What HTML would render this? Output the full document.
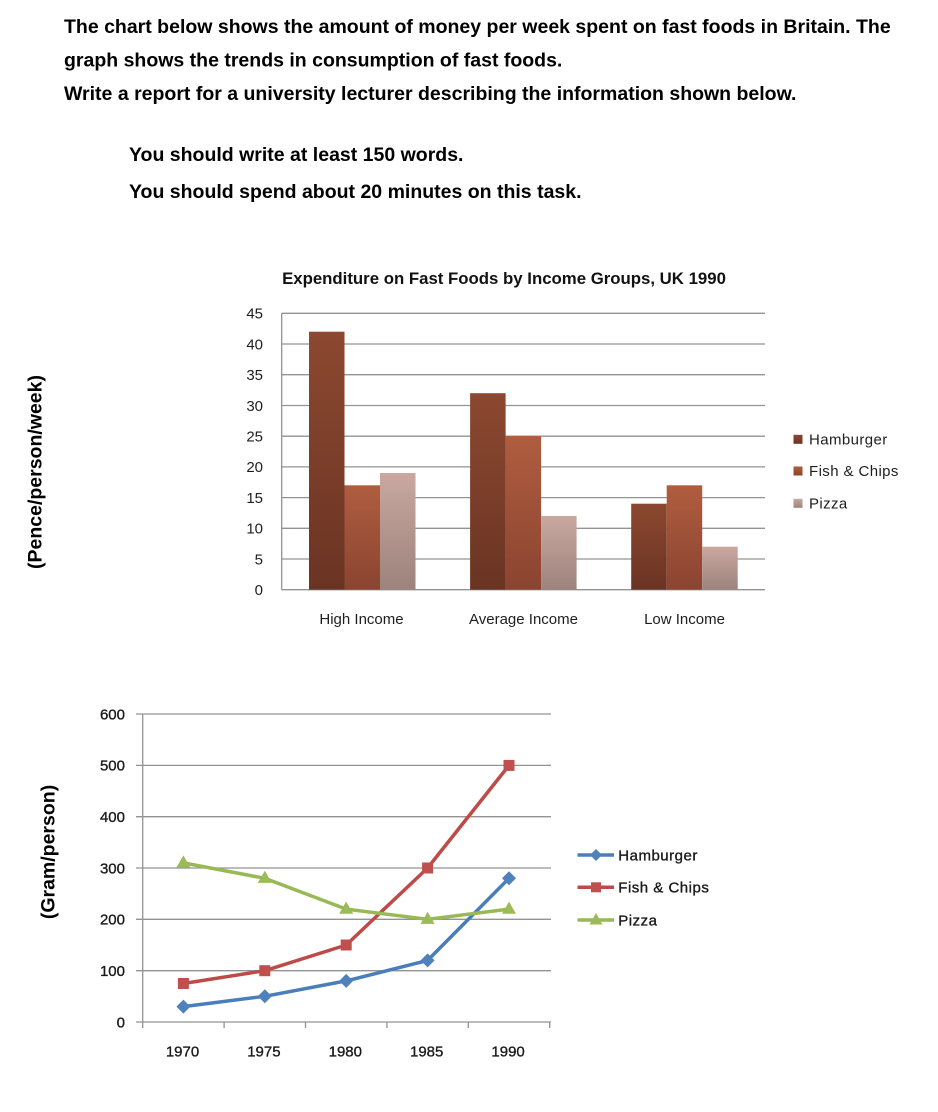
<!DOCTYPE html>
<html>
<head>
<meta charset="utf-8">
<style>
  html,body{margin:0;padding:0;background:#fff;}
  body{width:938px;height:1112px;overflow:hidden;}
  svg{display:block;}
  .hd{font-family:"Liberation Sans",Arial,sans-serif;font-weight:bold;font-size:19.5px;fill:#000;}
  .tk{font-family:"Liberation Sans",Arial,sans-serif;font-size:15px;fill:#1e1e1e;}
  .tk2{font-family:"Liberation Sans",Arial,sans-serif;font-size:15px;fill:#1a1a1a;stroke:#1a1a1a;stroke-width:0.35px;}
  .ttl{font-family:"Liberation Sans",Arial,sans-serif;font-weight:bold;font-size:16.8px;fill:#111;}
</style>
</head>
<body>
<svg width="938" height="1112" viewBox="0 0 938 1112" xmlns="http://www.w3.org/2000/svg">
  <defs>
    <linearGradient id="gH" x1="0" y1="0" x2="0" y2="1">
      <stop offset="0" stop-color="#8c4830"/>
      <stop offset="1" stop-color="#6a3423"/>
    </linearGradient>
    <linearGradient id="gF" x1="0" y1="0" x2="0" y2="1">
      <stop offset="0" stop-color="#b05d3f"/>
      <stop offset="1" stop-color="#8a4430"/>
    </linearGradient>
    <linearGradient id="gP" x1="0" y1="0" x2="0" y2="1">
      <stop offset="0" stop-color="#c9a8a0"/>
      <stop offset="1" stop-color="#9c837c"/>
    </linearGradient>
  </defs>

  <!-- Header text -->
  <text class="hd" x="64" y="33">The chart below shows the amount of money per week spent on fast foods in Britain. The</text>
  <text class="hd" x="64" y="66.5">graph shows the trends in consumption of fast foods.</text>
  <text class="hd" x="64" y="100">Write a report for a university lecturer describing the information shown below.</text>
  <text class="hd" x="129" y="161">You should write at least 150 words.</text>
  <text class="hd" x="129" y="198">You should spend about 20 minutes on this task.</text>

  <!-- Y axis labels -->
  <text class="hd" transform="translate(41.5,472) rotate(-90)" text-anchor="middle">(Pence/person/week)</text>
  <text class="hd" transform="translate(54.5,852) rotate(-90)" text-anchor="middle">(Gram/person)</text>

  <!-- ===== BAR CHART ===== -->
  <text class="ttl" x="504" y="284" text-anchor="middle">Expenditure on Fast Foods by Income Groups, UK 1990</text>

  <g stroke="#939393" stroke-width="1.3">
    <line x1="281.7" y1="313.3" x2="765" y2="313.3"/>
    <line x1="281.7" y1="344" x2="765" y2="344"/>
    <line x1="281.7" y1="374.7" x2="765" y2="374.7"/>
    <line x1="281.7" y1="405.5" x2="765" y2="405.5"/>
    <line x1="281.7" y1="436.2" x2="765" y2="436.2"/>
    <line x1="281.7" y1="466.9" x2="765" y2="466.9"/>
    <line x1="281.7" y1="497.6" x2="765" y2="497.6"/>
    <line x1="281.7" y1="528.3" x2="765" y2="528.3"/>
    <line x1="281.7" y1="559" x2="765" y2="559"/>
    <line x1="281.7" y1="589.7" x2="765" y2="589.7"/>
    <line x1="281.7" y1="313.3" x2="281.7" y2="589.7"/>
  </g>

  <!-- bars -->
  <rect x="309" y="331.7" width="35.5" height="258" fill="url(#gH)"/>
  <rect x="344.5" y="485.3" width="35.5" height="104.4" fill="url(#gF)"/>
  <rect x="380" y="473" width="35.5" height="116.7" fill="url(#gP)"/>

  <rect x="470.1" y="393.2" width="35.5" height="196.5" fill="url(#gH)"/>
  <rect x="505.6" y="436.1" width="35.5" height="153.6" fill="url(#gF)"/>
  <rect x="541.1" y="516" width="35.5" height="73.7" fill="url(#gP)"/>

  <rect x="631.2" y="503.7" width="35.5" height="86" fill="url(#gH)"/>
  <rect x="666.7" y="485.3" width="35.5" height="104.4" fill="url(#gF)"/>
  <rect x="702.2" y="546.7" width="35.5" height="43" fill="url(#gP)"/>

  <!-- bar y tick labels -->
  <g class="tk" text-anchor="end">
    <text x="263" y="318.6">45</text>
    <text x="263" y="349.3">40</text>
    <text x="263" y="380">35</text>
    <text x="263" y="410.8">30</text>
    <text x="263" y="441.5">25</text>
    <text x="263" y="472.2">20</text>
    <text x="263" y="502.9">15</text>
    <text x="263" y="533.6">10</text>
    <text x="263" y="564.3">5</text>
    <text x="263" y="595">0</text>
  </g>
  <g class="tk" text-anchor="middle">
    <text x="361.5" y="624">High Income</text>
    <text x="523.5" y="624">Average Income</text>
    <text x="684.5" y="624">Low Income</text>
  </g>

  <!-- bar legend -->
  <rect x="793.5" y="434.8" width="9" height="9" fill="url(#gH)"/>
  <rect x="793.5" y="466.5" width="9" height="9" fill="url(#gF)"/>
  <rect x="793.5" y="498.8" width="9" height="9" fill="url(#gP)"/>
  <g class="tk" style="letter-spacing:0.4px">
    <text x="809" y="444.5">Hamburger</text>
    <text x="809" y="476.2">Fish &amp; Chips</text>
    <text x="809" y="508.5">Pizza</text>
  </g>

  <!-- ===== LINE CHART ===== -->
  <g stroke="#939393" stroke-width="1.3">
    <line x1="136" y1="714" x2="551" y2="714"/>
    <line x1="136" y1="765.4" x2="551" y2="765.4"/>
    <line x1="136" y1="816.7" x2="551" y2="816.7"/>
    <line x1="136" y1="868" x2="551" y2="868"/>
    <line x1="136" y1="919.3" x2="551" y2="919.3"/>
    <line x1="136" y1="970.7" x2="551" y2="970.7"/>
    <line x1="136" y1="1022" x2="551" y2="1022"/>
    <line x1="142.7" y1="714" x2="142.7" y2="1028"/>
    <line x1="224.1" y1="1022" x2="224.1" y2="1028"/>
    <line x1="305.5" y1="1022" x2="305.5" y2="1028"/>
    <line x1="386.9" y1="1022" x2="386.9" y2="1028"/>
    <line x1="468.3" y1="1022" x2="468.3" y2="1028"/>
    <line x1="549.7" y1="1022" x2="549.7" y2="1028"/>
  </g>

  <g class="tk2" text-anchor="end">
    <text x="125" y="719.3">600</text>
    <text x="125" y="770.7">500</text>
    <text x="125" y="822">400</text>
    <text x="125" y="873.3">300</text>
    <text x="125" y="924.6">200</text>
    <text x="125" y="976">100</text>
    <text x="125" y="1027.3">0</text>
  </g>
  <g class="tk2" text-anchor="middle">
    <text x="182.5" y="1056.7">1970</text>
    <text x="263.9" y="1056.7">1975</text>
    <text x="345.3" y="1056.7">1980</text>
    <text x="426.7" y="1056.7">1985</text>
    <text x="508.1" y="1056.7">1990</text>
  </g>

  <!-- Hamburger -->
  <polyline fill="none" stroke="#4a7ebb" stroke-width="3.5" stroke-linejoin="round"
    points="183.4,1006.6 264.8,996.3 346.2,980.9 427.6,960.4 509,878.3"/>
  <g fill="#4f81bd">
    <path d="M183.4,999.6 L190.4,1006.6 L183.4,1013.6 L176.4,1006.6 Z"/>
    <path d="M264.8,989.3 L271.8,996.3 L264.8,1003.3 L257.8,996.3 Z"/>
    <path d="M346.2,973.9 L353.2,980.9 L346.2,987.9 L339.2,980.9 Z"/>
    <path d="M427.6,953.4 L434.6,960.4 L427.6,967.4 L420.6,960.4 Z"/>
    <path d="M509,871.3 L516,878.3 L509,885.3 L502,878.3 Z"/>
  </g>

  <!-- Fish & Chips -->
  <polyline fill="none" stroke="#be4b48" stroke-width="3.5" stroke-linejoin="round"
    points="183.4,983.5 264.8,970.7 346.2,945 427.6,868 509,765.4"/>
  <g fill="#c0504d">
    <rect x="177.9" y="978" width="11" height="11"/>
    <rect x="259.3" y="965.2" width="11" height="11"/>
    <rect x="340.7" y="939.5" width="11" height="11"/>
    <rect x="422.1" y="862.5" width="11" height="11"/>
    <rect x="503.5" y="759.9" width="11" height="11"/>
  </g>

  <!-- Pizza -->
  <polyline fill="none" stroke="#98b954" stroke-width="3.5" stroke-linejoin="round"
    points="183.4,862.9 264.8,878.3 346.2,909.1 427.6,919.3 509,909.1"/>
  <g fill="#9bbb59">
    <path d="M183.4,855.4 L190.4,867.5 L176.4,867.5 Z"/>
    <path d="M264.8,870.8 L271.8,882.9 L257.8,882.9 Z"/>
    <path d="M346.2,901.6 L353.2,913.7 L339.2,913.7 Z"/>
    <path d="M427.6,911.8 L434.6,923.9 L420.6,923.9 Z"/>
    <path d="M509,901.6 L516,913.7 L502,913.7 Z"/>
  </g>

  <!-- line legend -->
  <line x1="577.5" y1="855" x2="614" y2="855" stroke="#4a7ebb" stroke-width="3.5"/>
  <path d="M596,849 L602,855 L596,861 L590,855 Z" fill="#4f81bd"/>
  <line x1="577.5" y1="887.3" x2="614" y2="887.3" stroke="#be4b48" stroke-width="3.5"/>
  <rect x="591" y="882.3" width="10" height="10" fill="#c0504d"/>
  <line x1="577.5" y1="920" x2="614" y2="920" stroke="#98b954" stroke-width="3.5"/>
  <path d="M596,913 L602.5,924.5 L589.5,924.5 Z" fill="#9bbb59"/>
  <g class="tk2" style="letter-spacing:0.5px">
    <text x="618.3" y="860.3">Hamburger</text>
    <text x="618.3" y="892.6">Fish &amp; Chips</text>
    <text x="618.3" y="925.3">Pizza</text>
  </g>
</svg>
</body>
</html>
